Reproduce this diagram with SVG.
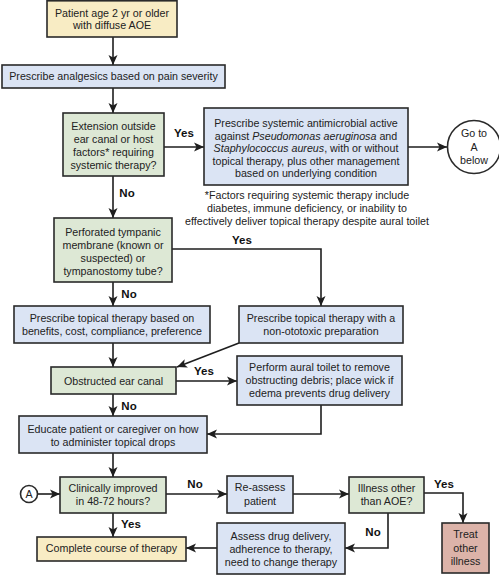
<svg xmlns="http://www.w3.org/2000/svg" width="499" height="575" viewBox="0 0 499 575">
<defs>
<marker id="ah" markerUnits="userSpaceOnUse" markerWidth="10" markerHeight="10" refX="10" refY="5" orient="auto">
<path d="M0,0.5 L10,5 L0,9.5 L2.5,5 z" fill="#1e1e1e"/>
</marker>
<style>
.b{stroke:#2a2a2a;stroke-width:1.6}
.y{fill:#f8ecc4}
.u{fill:#dbe4f4}
.g{fill:#dde8d5}
.r{fill:#dcb3a9}
.w{fill:#ffffff}
text{font-family:"Liberation Sans",Arial,sans-serif;font-size:10.7px;fill:#222;text-anchor:middle}
.l{font-weight:bold;font-size:11.5px;fill:#111}
.c{fill:none;stroke:#1e1e1e;stroke-width:1.6;marker-end:url(#ah)}
.n{fill:none;stroke:#1e1e1e;stroke-width:1.6}
</style>
</defs>
<rect width="499" height="575" fill="#ffffff"/>
<g id="connectors">
<line class="c" x1="113" y1="37" x2="113" y2="65"/>
<line class="c" x1="113" y1="88" x2="113" y2="113"/>
<line class="c" x1="164" y1="147" x2="204" y2="147"/>
<line class="c" x1="408" y1="147" x2="447" y2="147"/>
<line class="c" x1="113" y1="176" x2="113" y2="218"/>
<polyline class="c" points="172,249 321,249 321,306"/>
<line class="c" x1="113" y1="282" x2="113" y2="306"/>
<line class="c" x1="113" y1="343" x2="113" y2="367"/>
<line class="c" x1="239" y1="343" x2="177" y2="367"/>
<line class="c" x1="176" y1="381" x2="237" y2="381"/>
<polyline class="c" points="321,405 321,434 207,434"/>
<line class="c" x1="113" y1="394" x2="113" y2="416"/>
<line class="c" x1="113" y1="453" x2="113" y2="477"/>
<line class="c" x1="37.5" y1="494" x2="60" y2="494"/>
<line class="c" x1="166" y1="494" x2="227" y2="494"/>
<line class="c" x1="293" y1="494" x2="349" y2="494"/>
<polyline class="c" points="424,493 463,493 463,523"/>
<polyline class="c" points="388,513 388,548 345,548"/>
<line class="c" x1="217" y1="548" x2="186" y2="548"/>
<line class="c" x1="113" y1="513" x2="113" y2="537"/>
<text class="l" x="184" y="137">Yes</text>
<text class="l" x="127" y="197">No</text>
<text class="l" x="242" y="244">Yes</text>
<text class="l" x="129" y="298">No</text>
<text class="l" x="204" y="375">Yes</text>
<text class="l" x="129" y="410">No</text>
<text class="l" x="195" y="488">No</text>
<text class="l" x="444" y="488">Yes</text>
<text class="l" x="373" y="536">No</text>
<text class="l" x="131" y="528">Yes</text>
</g>
<g id="n1"><rect class="b y" x="47" y="0.8" width="130" height="36.2"/>
<text x="112" y="17">Patient age 2 yr or older</text><text x="112" y="29">with diffuse AOE</text></g>
<g id="n2"><rect class="b u" x="2" y="65" width="223" height="23"/>
<text x="113.5" y="80.3">Prescribe analgesics based on pain severity</text></g>
<g id="n3"><rect class="b g" x="63" y="113" width="101" height="63"/>
<text x="113.5" y="130">Extension outside</text><text x="113.5" y="143">ear canal or host</text><text x="113.5" y="156">factors* requiring</text><text x="113.5" y="169">systemic therapy?</text></g>
<g id="n4"><rect class="b u" x="204" y="108" width="204" height="77"/>
<text x="306" y="127">Prescribe systemic antimicrobial active</text>
<text x="306" y="139.5">against <tspan font-style="italic">Pseudomonas aeruginosa</tspan> and</text>
<text x="306" y="152"><tspan font-style="italic">Staphylococcus aureus</tspan>, with or without</text>
<text x="306" y="164.5">topical therapy, plus other management</text>
<text x="306" y="177">based on underlying condition</text></g>
<g id="n5"><circle class="b w" cx="474" cy="147" r="26.5"/>
<text x="474" y="137">Go to</text><text x="474" y="151">A</text><text x="474" y="164">below</text></g>
<g id="note"><text x="307" y="199">*Factors requiring systemic therapy include</text>
<text x="307" y="212">diabetes, immune deficiency, or inability to</text>
<text x="307" y="225">effectively deliver topical therapy despite aural toilet</text></g>
<g id="n6"><rect class="b g" x="54" y="218" width="118" height="64"/>
<text x="113" y="235.5">Perforated tympanic</text><text x="113" y="248.5">membrane (known or</text><text x="113" y="261.5">suspected) or</text><text x="113" y="274.5">tympanostomy tube?</text></g>
<g id="n7"><rect class="b u" x="14" y="306" width="196" height="37"/>
<text x="112" y="322">Prescribe topical therapy based on</text><text x="112" y="335">benefits, cost, compliance, preference</text></g>
<g id="n8"><rect class="b u" x="239" y="306" width="164" height="37"/>
<text x="321" y="322">Prescribe topical therapy with a</text><text x="321" y="335">non-ototoxic preparation</text></g>
<g id="n9"><rect class="b g" x="51" y="367" width="125" height="27"/>
<text x="113.5" y="384.5">Obstructed ear canal</text></g>
<g id="n10"><rect class="b u" x="237" y="356" width="165" height="49"/>
<text x="319.5" y="371">Perform aural toilet to remove</text><text x="319.5" y="384">obstructing debris; place wick if</text><text x="319.5" y="397">edema prevents drug delivery</text></g>
<g id="n11"><rect class="b u" x="19" y="416" width="188" height="37"/>
<text x="113" y="433">Educate patient or caregiver on how</text><text x="113" y="445.5">to administer topical drops</text></g>
<g id="n12"><circle class="b w" cx="29" cy="494" r="8.5"/><text x="29" y="498">A</text></g>
<g id="n13"><rect class="b g" x="60" y="477" width="106" height="36"/>
<text x="113" y="492">Clinically improved</text><text x="113" y="505">in 48-72 hours?</text></g>
<g id="n14"><rect class="b u" x="227" y="476" width="66" height="37"/>
<text x="260" y="491">Re-assess</text><text x="260" y="505">patient</text></g>
<g id="n15"><rect class="b g" x="349" y="477" width="75" height="36"/>
<text x="386.5" y="492">Illness other</text><text x="386.5" y="505">than AOE?</text></g>
<g id="n16"><rect class="b r" x="442" y="523" width="47" height="50"/>
<text x="465.5" y="538">Treat</text><text x="465.5" y="552">other</text><text x="465.5" y="565">illness</text></g>
<g id="n17"><rect class="b u" x="217" y="523" width="128" height="51"/>
<text x="281" y="540">Assess drug delivery,</text><text x="281" y="553">adherence to therapy,</text><text x="281" y="566">need to change therapy</text></g>
<g id="n18"><rect class="b y" x="37" y="537" width="149" height="24"/>
<text x="111.5" y="552">Complete course of therapy</text></g>
</svg>
